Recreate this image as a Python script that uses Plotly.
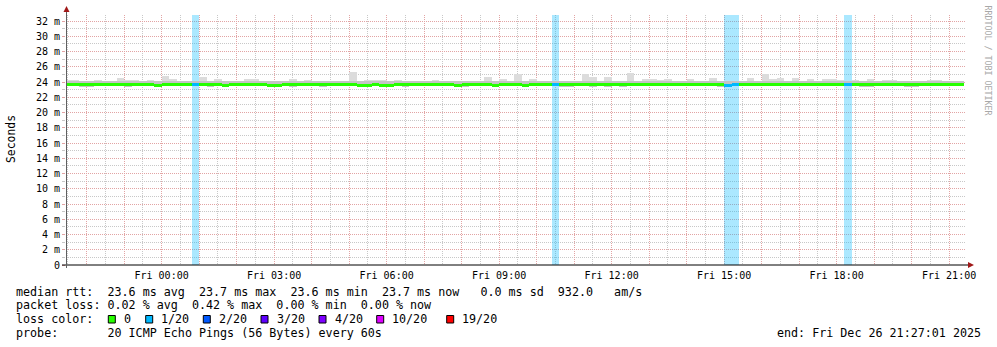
import plotly.graph_objects as go
from datetime import datetime, timedelta

# ---------------- data ----------------
range_start = "2025-12-25 21:27:01"
range_end = "2025-12-26 21:27:01"
bin_start = datetime(2025, 12, 25, 21, 24, 0)
bin_minutes = 12

# upper edge of the smoke (ms), one value per 12 min bin
smoke_top = [
    24.30, 24.30, 24.17, 24.17, 24.26, 24.17, 24.17, 24.56, 24.20, 24.26,
    24.17, 24.26, 24.17, 24.83, 24.40, 24.17, 24.17, 24.17, 24.66, 24.17,
    24.40, 24.17, 24.17, 24.17, 24.40, 24.35, 24.17, 24.17, 24.17, 24.17,
    24.40, 24.17, 24.26, 24.17, 24.17, 24.17, 24.17, 24.17, 25.31, 24.17,
    24.26, 24.26, 24.26, 24.17, 24.26, 24.17, 24.17, 24.17, 24.17, 24.26,
    24.17, 24.17, 24.17, 24.17, 24.17, 24.17, 24.66, 24.17, 24.40, 24.17,
    25.05, 24.17, 24.40, 24.17, 24.17, 24.17, 24.17, 24.17, 24.17, 25.05,
    24.66, 24.17, 24.66, 24.17, 24.17, 25.18, 24.17, 24.40, 24.40, 24.26,
    24.40, 24.17, 24.17, 24.40, 24.17, 24.17, 24.52, 24.17, 24.17, 24.17,
    24.17, 24.52, 24.17, 25.05, 24.40, 24.52, 24.17, 24.52, 24.17, 24.40,
    24.17, 24.40, 24.40, 24.26, 24.17, 24.26, 24.17, 24.40, 24.17, 24.26,
    24.26, 24.17, 24.17, 24.17, 24.17, 24.26, 24.26, 24.17, 24.17, 24.17,
]
# upper edge of the dense inner smoke (ms)
smoke_inner = [
    24.17, 24.17, 24.15, 24.15, 24.17, 24.15, 24.15, 24.17, 24.15, 24.17,
    24.15, 24.17, 24.15, 24.17, 24.17, 24.15, 24.15, 24.15, 24.17, 24.15,
    24.17, 24.15, 24.15, 24.15, 24.17, 24.17, 24.15, 24.15, 24.15, 24.15,
    24.17, 24.15, 24.17, 24.15, 24.15, 24.15, 24.15, 24.15, 24.17, 24.15,
    24.17, 24.17, 24.17, 24.15, 24.17, 24.15, 24.15, 24.15, 24.15, 24.17,
    24.15, 24.15, 24.15, 24.15, 24.15, 24.15, 24.17, 24.15, 24.17, 24.15,
    24.17, 24.15, 24.17, 24.15, 24.15, 24.15, 24.15, 24.15, 24.15, 24.17,
    24.17, 24.15, 24.17, 24.15, 24.15, 24.17, 24.15, 24.17, 24.17, 24.17,
    24.17, 24.15, 24.15, 24.17, 24.15, 24.15, 24.17, 24.15, 24.15, 24.15,
    24.15, 24.17, 24.15, 24.17, 24.17, 24.17, 24.15, 24.17, 24.15, 24.17,
    24.15, 24.17, 24.17, 24.17, 24.15, 24.17, 24.15, 24.17, 24.15, 24.17,
    24.17, 24.15, 24.15, 24.15, 24.15, 24.17, 24.17, 24.15, 24.15, 24.15,
]
# lower edge of the smoke (ms)
smoke_bottom = [
    23.50, 23.50, 23.35, 23.35, 23.50, 23.50, 23.50, 23.50, 23.40, 23.50,
    23.50, 23.50, 23.40, 23.50, 23.50, 23.50, 23.50, 23.50, 23.50, 23.38,
    23.50, 23.40, 23.50, 23.50, 23.50, 23.50, 23.45, 23.35, 23.35, 23.50,
    23.38, 23.50, 23.50, 23.50, 23.38, 23.50, 23.50, 23.50, 23.50, 23.35,
    23.35, 23.50, 23.40, 23.40, 23.50, 23.40, 23.50, 23.50, 23.50, 23.50,
    23.50, 23.50, 23.40, 23.40, 23.50, 23.50, 23.50, 23.38, 23.50, 23.50,
    23.50, 23.38, 23.50, 23.50, 23.50, 23.50, 23.38, 23.38, 23.50, 23.50,
    23.38, 23.50, 23.38, 23.50, 23.38, 23.50, 23.50, 23.50, 23.50, 23.50,
    23.50, 23.50, 23.50, 23.50, 23.50, 23.50, 23.50, 23.40, 23.35, 23.45,
    23.50, 23.50, 23.50, 23.50, 23.50, 23.50, 23.50, 23.50, 23.50, 23.50,
    23.50, 23.50, 23.50, 23.50, 23.50, 23.50, 23.40, 23.40, 23.50, 23.50,
    23.50, 23.50, 23.40, 23.40, 23.50, 23.50, 23.50, 23.50, 23.50, 23.50,
]
# median rtt (ms)
median_rtt = [
    23.62, 23.62, 23.62, 23.62, 23.62, 23.62, 23.62, 23.62, 23.62, 23.62,
    23.62, 23.62, 23.48, 23.62, 23.62, 23.62, 23.62, 23.62, 23.62, 23.62,
    23.62, 23.48, 23.62, 23.62, 23.62, 23.62, 23.62, 23.48, 23.48, 23.62,
    23.62, 23.62, 23.62, 23.62, 23.62, 23.62, 23.62, 23.62, 23.62, 23.48,
    23.48, 23.62, 23.48, 23.48, 23.62, 23.62, 23.62, 23.62, 23.62, 23.62,
    23.62, 23.62, 23.48, 23.62, 23.62, 23.62, 23.62, 23.48, 23.62, 23.62,
    23.62, 23.48, 23.62, 23.62, 23.62, 23.62, 23.62, 23.62, 23.62, 23.62,
    23.62, 23.62, 23.62, 23.62, 23.62, 23.62, 23.62, 23.62, 23.62, 23.62,
    23.62, 23.62, 23.62, 23.62, 23.62, 23.62, 23.62, 23.62, 23.55, 23.62,
    23.62, 23.62, 23.62, 23.62, 23.62, 23.62, 23.62, 23.62, 23.62, 23.62,
    23.62, 23.62, 23.62, 23.62, 23.62, 23.62, 23.62, 23.62, 23.62, 23.62,
    23.62, 23.62, 23.62, 23.62, 23.62, 23.62, 23.62, 23.62, 23.62, 23.62,
]
# lost pings out of 20 per bin
loss_count = [0] * 120
for k in (17, 65, 88, 89, 104):
    loss_count[k] = 1

loss_labels = ["0", "1/20", "2/20", "3/20", "4/20", "10/20", "19/20"]
loss_thresholds = [0, 1, 2, 3, 4, 10, 19]
loss_colors = ["#26ff00", "#00b8ff", "#0059ff", "#5e00ff", "#7e00ff", "#dd00ff", "#ff0000"]
loss_rgb = [(38, 255, 0), (0, 184, 255), (0, 89, 255), (94, 0, 255), (126, 0, 255), (221, 0, 255), (255, 0, 0)]

y_tick_values = [0, 2, 4, 6, 8, 10, 12, 14, 16, 18, 20, 22, 24, 26, 28, 30, 32]
y_tick_labels = ["0", "2 m", "4 m", "6 m", "8 m", "10 m", "12 m", "14 m", "16 m", "18 m",
                 "20 m", "22 m", "24 m", "26 m", "28 m", "30 m", "32 m"]
x_tick_hours = ["2025-12-26 00:00", "2025-12-26 03:00", "2025-12-26 06:00", "2025-12-26 09:00",
                "2025-12-26 12:00", "2025-12-26 15:00", "2025-12-26 18:00", "2025-12-26 21:00"]
x_tick_labels = ["Fri 00:00", "Fri 03:00", "Fri 06:00", "Fri 09:00",
                 "Fri 12:00", "Fri 15:00", "Fri 18:00", "Fri 21:00"]

legend_line1 = "median rtt:  23.6 ms avg  23.7 ms max  23.6 ms min  23.7 ms now   0.0 ms sd  932.0   am/s"
legend_line2 = "packet loss: 0.02 % avg  0.42 % max  0.00 % min  0.00 % now"
legend_line3 = "loss color:"
legend_line4 = "probe:       20 ICMP Echo Pings (56 Bytes) every 60s"
end_text = "end: Fri Dec 26 21:27:01 2025"
credit_text = "RRDTOOL / TOBI OETIKER"

# ---------------- layout geometry (pixels) ----------------
W, H = 997, 347
L, R, T, B = 66, 966, 15, 265
Y_MAX = 32.787
LINE_MS = 0.40
MONO = "DejaVu Sans Mono"


def px(x):
    return (x - L) / (R - L)


def py(y):
    return (B - y) / (B - T)


def nb(s):
    return s.replace(" ", "\u00a0")


def loss_color_idx(n):
    idx = 0
    for i, t in enumerate(loss_thresholds):
        if n >= t:
            idx = i
    return idx


n = len(smoke_top)
centers = [bin_start + timedelta(minutes=bin_minutes * (k + 0.5)) for k in range(n)]
bw = bin_minutes * 60 * 1000

fig = go.Figure()

# loss background bands
band_x, band_c = [], []
for k in range(n):
    if loss_count[k] > 0:
        r, g, b = loss_rgb[loss_color_idx(loss_count[k])]
        band_x.append(centers[k])
        band_c.append(f"rgba({r},{g},{b},0.33)")
fig.add_trace(go.Bar(x=band_x, y=[Y_MAX] * len(band_x), base=0, width=bw,
                     marker=dict(color=band_c, line=dict(width=0)), hoverinfo="skip"))

# outer smoke
fig.add_trace(go.Bar(x=centers, base=smoke_bottom,
                     y=[t - b for t, b in zip(smoke_top, smoke_bottom)], width=bw,
                     marker=dict(color="#dcdcdc", line=dict(width=0)), hoverinfo="skip"))
# inner smoke
fig.add_trace(go.Bar(x=centers, base=smoke_bottom,
                     y=[t - b for t, b in zip(smoke_inner, smoke_bottom)], width=bw,
                     marker=dict(color="#c4c4c4", line=dict(width=0)), hoverinfo="skip"))
# median line, coloured by loss
fig.add_trace(go.Bar(x=centers, base=[m - LINE_MS / 2 for m in median_rtt],
                     y=[LINE_MS] * n, width=bw,
                     marker=dict(color=[loss_colors[loss_color_idx(c)] for c in loss_count],
                                 line=dict(width=0)), hoverinfo="skip"))

red_grid = "#e2a4a4"
gray_grid = "#c8c8c8"
DASH = "1px,1px"

hour0 = datetime(2025, 12, 25, 22)
hour_vals = [hour0 + timedelta(hours=h) for h in range(24)]
hour_text = []
for hv in hour_vals:
    key = hv.strftime("%Y-%m-%d %H:%M")
    hour_text.append(x_tick_labels[x_tick_hours.index(key)] if key in x_tick_hours else "")

fig.update_layout(
    width=W, height=H,
    margin=dict(l=L, r=W - R, t=T, b=H - B, pad=0),
    paper_bgcolor="white", plot_bgcolor="white",
    barmode="overlay", bargap=0, showlegend=False,
    font=dict(family=MONO, size=10, color="black"),
    xaxis=dict(
        type="date", range=[range_start, range_end],
        tickmode="array", tickvals=hour_vals, ticktext=hour_text,
        showgrid=True, gridcolor=red_grid, griddash=DASH, gridwidth=1,
        minor=dict(tickmode="linear", tick0="2025-12-25 21:30", dtick=30 * 60 * 1000,
                   showgrid=True, gridcolor=gray_grid, griddash=DASH, gridwidth=1),
        showline=False, zeroline=False, ticks="",
        ticklabelstandoff=3,
        tickfont=dict(family=MONO, size=10, color="black"),
        fixedrange=True,
    ),
    yaxis=dict(
        range=[0, Y_MAX], tickmode="array", tickvals=y_tick_values, ticktext=y_tick_labels,
        showgrid=True, gridcolor=red_grid, griddash=DASH, gridwidth=1,
        minor=dict(tickmode="linear", tick0=0, dtick=1, showgrid=True,
                   gridcolor=gray_grid, griddash=DASH, gridwidth=1,
                   ticks="outside", ticklen=3, tickcolor=gray_grid),
        ticks="outside", ticklen=3, tickcolor=red_grid,
        showline=False, zeroline=False,
        tickfont=dict(family=MONO, size=10, color="black"),
        fixedrange=True,
    ),
)

shapes = []
# axes lines
shapes.append(dict(type="line", xref="paper", yref="paper", x0=px(62), x1=px(969), y0=py(265), y1=py(265),
                   line=dict(color="black", width=1)))
shapes.append(dict(type="line", xref="paper", yref="paper", x0=px(66.5), x1=px(66.5), y0=py(268), y1=py(10),
                   line=dict(color="#606060", width=1)))
# arrows
shapes.append(dict(type="path", xref="paper", yref="paper",
                   path=f"M {px(968)} {py(262)} L {px(974)} {py(265)} L {px(968)} {py(268)} Z",
                   fillcolor="#a01818", line=dict(width=0)))
shapes.append(dict(type="path", xref="paper", yref="paper",
                   path=f"M {px(63.5)} {py(12)} L {px(66.5)} {py(6)} L {px(69.5)} {py(12)} Z",
                   fillcolor="#a01818", line=dict(width=0)))

annotations = []


def text(s, x, y, xanchor="left", size=11.7, color="black", angle=0):
    annotations.append(dict(text=nb(s), xref="paper", yref="paper", x=px(x), y=py(y),
                            xanchor=xanchor, yanchor="middle", showarrow=False, textangle=angle,
                            font=dict(family=MONO, size=size, color=color), borderpad=0))


text(legend_line1, 15, 291.5)
text(legend_line2, 15, 305.3)
text(legend_line3, 15, 319)
text(legend_line4, 15, 333.3)
text(end_text, 982, 333.3, xanchor="right")
text("Seconds", 11, 139, xanchor="center", size=11.4, angle=-90)
text(credit_text, 987.5, 60, xanchor="center", size=8.3, color="#a8a8a8", angle=90)

sq_left = [108.3, 145.7, 203.3, 261, 319, 376.7, 446.7]
for i, lab in enumerate(loss_labels):
    x0 = sq_left[i]
    shapes.append(dict(type="rect", xref="paper", yref="paper", x0=px(x0), x1=px(x0 + 7), y0=py(315.5), y1=py(323),
                       fillcolor=loss_colors[i], line=dict(color="black", width=1)))
    text(lab, x0 + 14.5, 319)

fig.update_layout(shapes=shapes, annotations=annotations)
fig.write_html("out.html")
